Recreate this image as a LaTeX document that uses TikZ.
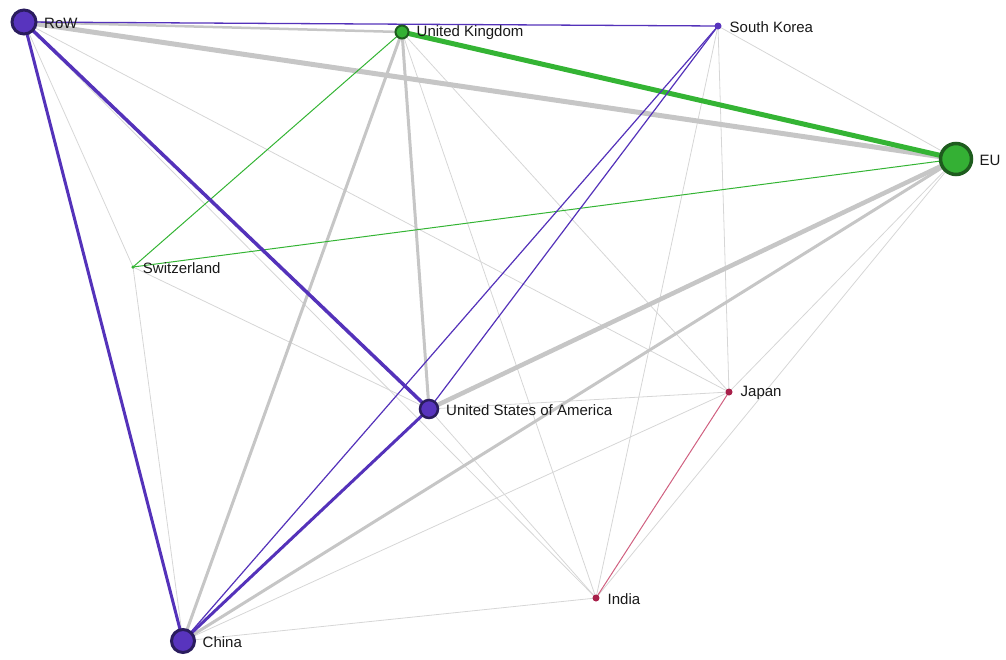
\documentclass[tikz,border=0pt]{standalone}
\usepackage{fontspec}
\setmainfont{Liberation Sans}
\usetikzlibrary{backgrounds}
\definecolor{purpE}{RGB}{84,50,186}
\definecolor{purpF}{RGB}{88,52,190}
\definecolor{purpD}{RGB}{42,28,94}
\definecolor{greenE}{RGB}{52,180,52}
\definecolor{greenF}{RGB}{52,176,52}
\definecolor{greenD}{RGB}{30,92,30}
\definecolor{grayK}{RGB}{198,198,198}
\definecolor{grayT}{RGB}{214,214,214}
\definecolor{pinkE}{RGB}{208,96,128}
\definecolor{redF}{RGB}{168,32,74}
\definecolor{txt}{RGB}{25,25,25}
\tikzset{
  vtx/.style={circle,inner sep=0pt,outer sep=0pt},
  pnode/.style={vtx,fill=purpF,draw=purpD},
  gnode/.style={vtx,fill=greenF,draw=greenD},
  rnode/.style={vtx,fill=redF},
  lbl/.style={anchor=west,inner sep=0pt,text=txt,font=\fontsize{15}{18}\selectfont,xshift=8pt,yshift=-1pt},
  ge/.style={draw=grayT,line width=0.8pt},
  gk/.style={draw=grayK},
  pe/.style={draw=purpE},
  gr/.style={draw=greenE},
}
\begin{document}
\begin{tikzpicture}[x=1pt,y=-1pt]
\useasboundingbox (0,0) rectangle (1006,659);
\node[pnode,minimum size=24pt,line width=3pt] (row) at (24,22) {};
\node[gnode,minimum size=13pt,line width=2pt] (uk) at (402,32) {};
\node[pnode,minimum size=7pt,draw=none] (sk) at (718,26) {};
\node[gnode,minimum size=31pt,line width=3.5pt] (eu) at (956,159) {};
\node[vtx,fill=greenE,minimum size=3.5pt] (ch) at (133,267) {};
\node[rnode,minimum size=7pt] (jp) at (729,392) {};
\node[pnode,minimum size=18pt,line width=2.5pt] (us) at (429,409) {};
\node[rnode,minimum size=7pt] (in) at (596,598) {};
\node[pnode,minimum size=23pt,line width=3pt] (cn) at (183,641) {};

\node[lbl] at (row.east) {RoW};
\node[lbl] at (uk.east) {United Kingdom};
\node[lbl] at (sk.east) {South Korea};
\node[lbl] at (eu.east) {EU};
\node[lbl] at (ch.east) {Switzerland};
\node[lbl] at (jp.east) {Japan};
\node[lbl] at (us.east) {United States of America};
\node[lbl] at (in.east) {India};
\node[lbl] at (cn.east) {China};

\begin{scope}[on background layer]
% thin gray
\foreach \a/\b in {row/jp,row/in,row/ch,uk/in,uk/jp,sk/eu,sk/in,sk/jp,eu/jp,eu/in,ch/cn,ch/us,us/jp,us/in,cn/jp,cn/in}
  \draw[ge] (\a.center) -- (\b.center);
% heavier gray
\draw[gk,line width=2.5pt] (row.center) -- (uk.center);
\draw[gk,line width=3pt] (uk.center) -- (cn.center);
\draw[gk,line width=3pt] (uk.center) -- (us.center);
\draw[gk,line width=3pt] (eu.center) -- (cn.center);
\draw[gk,line width=4.5pt] (eu.center) -- (us.center);
\draw[gk,line width=5pt] (row.center) -- (eu.center);
% green
\draw[gr,line width=1pt] (uk.center) -- (ch.center);
\draw[gr,line width=1pt] (ch.center) -- (eu.center);
\draw[gr,line width=5pt] (uk.center) -- (eu.center);
% pink
\draw[draw=pinkE,line width=1pt] (jp.center) -- (in.center);
% purple
\draw[pe,line width=1.3pt] (row.center) -- (sk.center);
\draw[pe,line width=1.2pt] (sk.center) -- (us.center);
\draw[pe,line width=1.2pt] (sk.center) -- (cn.center);
\draw[pe,line width=3pt] (row.center) -- (cn.center);
\draw[pe,line width=3pt] (us.center) -- (cn.center);
\draw[pe,line width=3.5pt] (row.center) -- (us.center);
\end{scope}
\end{tikzpicture}
\end{document}
